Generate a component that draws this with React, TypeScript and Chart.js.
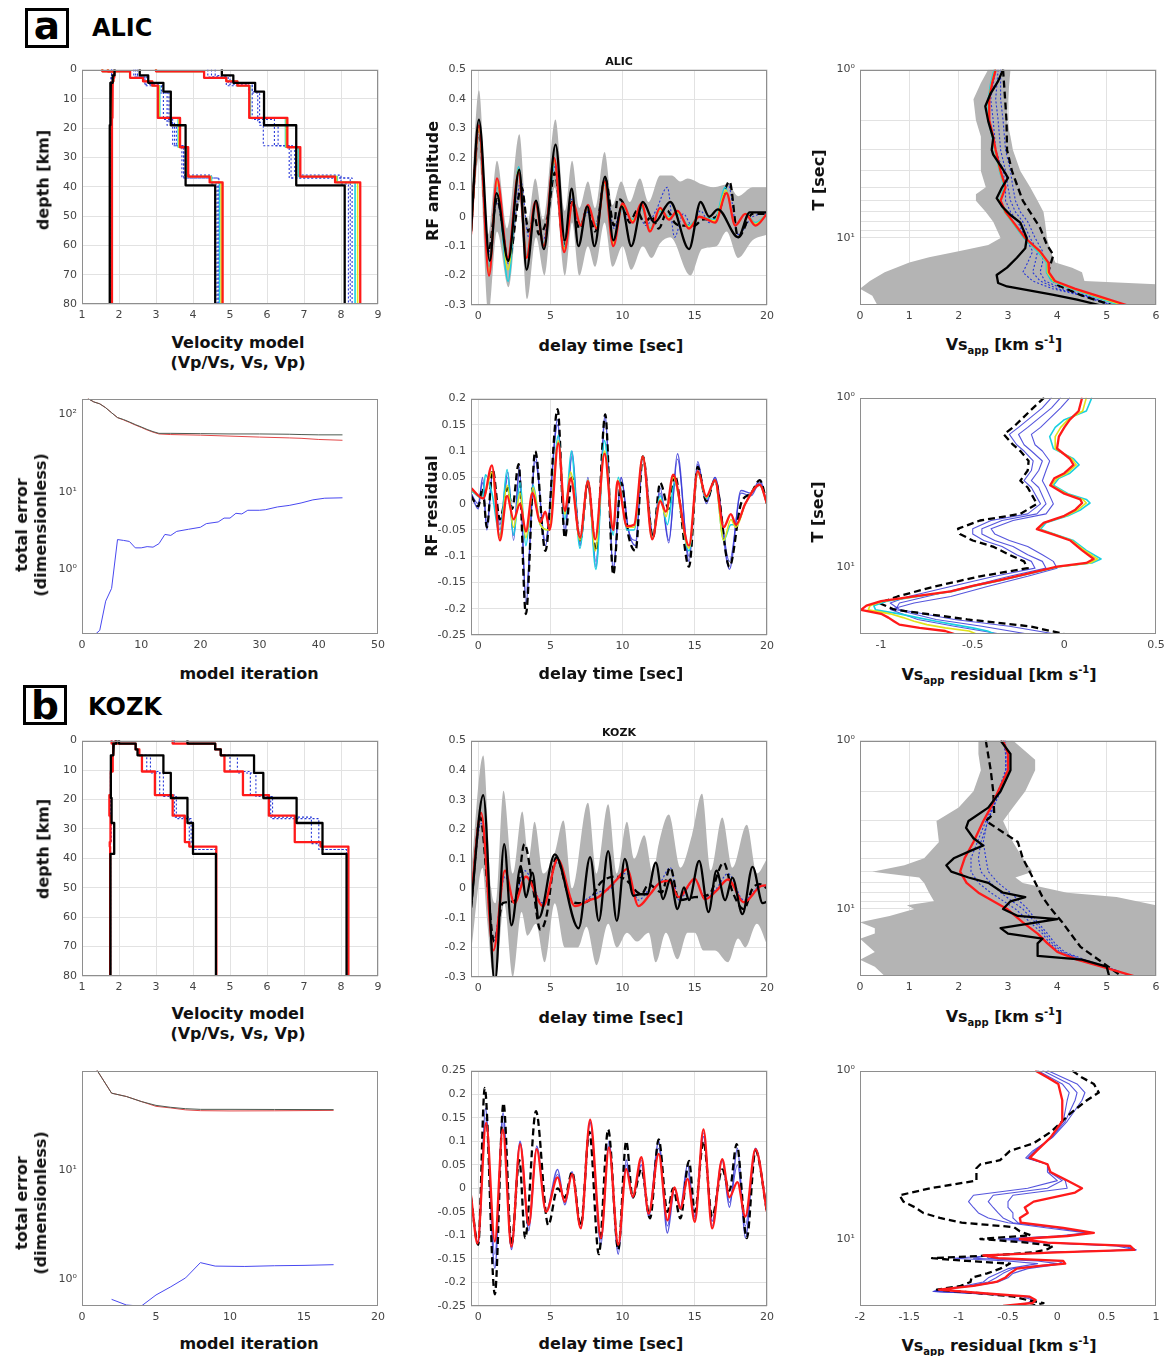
import React, { useEffect, useRef } from 'react';
import { Chart, registerables } from 'chart.js';
Chart.register(...registerables);

// ===================== DATA =====================
// ---- a) ALIC velocity models (layer top depth [km] + values) ----
const ALIC_BLACK_DEPTH = [0, 2, 4.5, 7.5, 19, 39.5];
const ALIC_BLACK_VPVS = [1.88, 1.83, 1.78, 1.76, 1.75, 1.75];
const ALIC_BLACK_VS = [2.56, 2.79, 3.2, 3.4, 3.8, 4.6];
const ALIC_BLACK_VP = [4.78, 5.09, 5.68, 5.92, 6.79, 8.1];
const ALIC_RED_DEPTH = [0, 0.6, 2.8, 4, 5.5, 16.5, 26.5, 36.5, 38.5];
const ALIC_RED_VPVS = [1.55, 1.87, 1.85, 1.83, 1.82, 1.81, 1.81, 1.81, 1.81];
const ALIC_RED_VS = [1.7, 2.3, 2.65, 2.9, 3.05, 3.65, 3.87, 4.45, 4.8];
const ALIC_RED_VP = [3.0, 4.3, 4.9, 5.2, 5.52, 6.55, 6.9, 7.84, 8.52];
const ALIC_CYAN_VS = [1.7, 2.3, 2.65, 2.9, 3.1, 3.6, 3.82, 4.5, 4.72];
const ALIC_CYAN_VP = [3.0, 4.3, 4.9, 5.2, 5.55, 6.5, 6.85, 7.9, 8.38];
const ALIC_YELLOW_VS = [1.7, 2.3, 2.65, 2.9, 3.08, 3.62, 3.85, 4.48, 4.76];
const ALIC_YELLOW_VP = [3.0, 4.3, 4.9, 5.2, 5.53, 6.52, 6.88, 7.88, 8.45];
const ALIC_JET_VPVS = [1.55, 1.87, 1.85, 1.82, 1.8, 1.8, 1.79, 1.79, 1.79];
const ALIC_BLUE_DEPTH = [[0, 2, 4.5, 7.5, 19, 26, 36, 39], [0, 2.5, 5, 8, 18, 26, 37], [0, 2.5, 5.5, 17, 26, 37]];
const ALIC_BLUE_VS = [[2.5, 2.75, 3.15, 3.3, 3.55, 3.75, 4.5, 4.65], [2.45, 2.7, 3.1, 3.35, 3.5, 3.7, 4.7], [2.4, 2.7, 3.2, 3.45, 3.75, 4.68]];
const ALIC_BLUE_VP = [[4.6, 5.0, 5.6, 5.8, 6.3, 6.75, 8.0, 8.2], [4.5, 4.95, 5.5, 5.75, 5.9, 6.6, 8.3], [4.4, 4.9, 5.6, 6.2, 6.65, 8.25]];
const ALIC_BLUE_VPVS = [[1.8, 1.79, 1.78, 1.77, 1.77, 1.77, 1.77, 1.77], [1.8, 1.79, 1.78, 1.78, 1.77, 1.77, 1.77], [1.8, 1.79, 1.78, 1.78, 1.77, 1.77]];

// ---- a) ALIC receiver functions [t, amplitude] ----
const ALIC_RF_BLACK = [[-0.5, -0.05], [0.05, 0.33], [0.8, -0.15], [1.27, 0.08], [2.08, -0.15], [2.84, 0.16], [3.35, -0.18], [4.0, 0.055], [4.55, -0.11], [5.36, 0.245], [6.0, -0.08], [6.47, 0.095], [6.94, -0.1], [7.55, 0.035], [8.05, -0.1], [8.79, 0.136], [9.36, -0.08], [9.94, 0.035], [10.6, -0.1], [11.4, 0.05], [12.2, -0.02], [13.3, 0.05], [14.6, -0.11], [15.4, 0.05], [16.0, 0.0], [16.6, 0.025], [18.0, -0.07], [18.8, 0.015], [20, 0.015]];
const ALIC_RF_RED = [[-0.5, -0.06], [0.05, 0.31], [0.75, -0.2], [1.3, 0.13], [2.05, -0.14], [2.8, 0.15], [3.35, -0.14], [3.95, 0.05], [4.55, -0.1], [5.25, 0.2], [5.95, -0.12], [6.55, 0.05], [7.1, -0.03], [7.6, 0.04], [8.2, -0.04], [8.75, 0.12], [9.35, -0.1], [10.0, 0.045], [10.7, -0.02], [11.3, 0.045], [11.9, -0.05], [12.6, 0.03], [13.2, -0.01], [13.8, 0.02], [14.6, -0.04], [15.3, 0.0], [15.9, -0.01], [16.4, -0.02], [17.2, 0.08], [17.8, -0.03], [18.5, 0.01], [19.2, -0.03], [20, 0.01]];
const ALIC_RF_DASH = [[-0.5, -0.05], [0.05, 0.3], [0.7, -0.12], [1.3, 0.06], [2.1, -0.15], [3.0, 0.1], [3.5, -0.05], [3.9, 0.0], [4.2, -0.06], [4.8, 0.0], [5.3, 0.15], [5.95, -0.1], [6.5, 0.05], [7.0, -0.04], [7.6, 0.03], [8.1, -0.05], [8.8, 0.13], [9.4, -0.03], [9.65, 0.06], [10.0, 0.05], [10.5, -0.02], [11.0, 0.02], [11.5, -0.02], [12.0, 0.0], [12.5, -0.04], [13.1, 0.02], [13.6, -0.02], [14.0, -0.03], [15.0, -0.03], [15.5, -0.01], [16.5, 0.0], [17.4, 0.12], [18.0, -0.07], [19, 0.01], [20, 0.01]];
const ALIC_RF_BLUE = [[-0.5, -0.05], [0.05, 0.29], [0.7, -0.13], [1.3, 0.05], [2.1, -0.16], [2.95, 0.12], [3.5, -0.07], [4.0, 0.05], [4.5, -0.08], [5.3, 0.17], [5.95, -0.1], [6.5, 0.06], [7.0, -0.03], [7.7, 0.02], [8.1, -0.03], [8.8, 0.12], [9.4, -0.04], [9.9, 0.03], [10.5, -0.02], [11.0, 0.02], [11.6, -0.03], [12.3, 0.02], [13.1, 0.1], [13.6, -0.07], [14.2, 0.01], [14.8, -0.03], [15.4, 0.02], [16.0, -0.02], [16.7, 0.02], [17.3, 0.11], [18.0, -0.06], [19, 0.0], [20, 0.01]];
const ALIC_RF_CYAN = [[-0.5, -0.06], [0.05, 0.3], [0.75, -0.17], [1.3, 0.1], [2.07, -0.22], [2.8, 0.17], [3.35, -0.13], [3.95, 0.05], [4.55, -0.09], [5.3, 0.18], [5.95, -0.1], [6.55, 0.05], [7.1, -0.03], [7.6, 0.03], [8.2, -0.03], [8.75, 0.11], [9.35, -0.08], [10.0, 0.03], [10.7, -0.01], [11.3, 0.03], [11.9, -0.04], [12.6, 0.02], [13.2, 0.0], [13.8, 0.01], [14.6, -0.03], [15.3, 0.0], [16.4, -0.01], [17.1, 0.1], [17.8, -0.03], [18.5, 0.01], [19.2, -0.02], [20, 0.01]];
const ALIC_RF_YELLOW = [[-0.5, -0.06], [0.05, 0.3], [0.75, -0.19], [1.3, 0.12], [2.06, -0.18], [2.8, 0.16], [3.35, -0.14], [3.95, 0.05], [4.55, -0.1], [5.27, 0.19], [5.95, -0.11], [6.55, 0.05], [7.1, -0.03], [7.6, 0.035], [8.2, -0.035], [8.75, 0.115], [9.35, -0.09], [10.0, 0.04], [10.7, -0.015], [11.3, 0.04], [11.9, -0.045], [12.6, 0.025], [13.2, -0.005], [13.8, 0.015], [14.6, -0.035], [15.3, 0.0], [16.4, -0.015], [17.15, 0.09], [17.8, -0.03], [18.5, 0.01], [19.2, -0.025], [20, 0.01]];
const ALIC_RF_BAND_UP = [[-0.5, 0.05], [0.05, 0.43], [0.7, -0.06], [1.3, 0.19], [2.0, -0.04], [2.85, 0.28], [3.4, -0.02], [3.95, 0.13], [4.5, -0.01], [5.35, 0.33], [6.0, 0.02], [6.5, 0.19], [7.0, 0.03], [7.6, 0.12], [8.1, 0.03], [8.75, 0.22], [9.3, 0.04], [9.9, 0.12], [10.5, 0.05], [11.2, 0.13], [11.8, 0.05], [12.6, 0.14], [13.4, 0.14], [14.0, 0.12], [14.5, 0.13], [15.5, 0.11], [16.3, 0.1], [17.3, 0.11], [18.0, 0.07], [19.0, 0.1], [20, 0.1]];
const ALIC_RF_BAND_LO = [[-0.5, -0.07], [0.05, 0.2], [0.7, -0.33], [1.3, -0.05], [2.1, -0.24], [2.85, 0.05], [3.4, -0.28], [4.0, -0.07], [4.6, -0.2], [5.3, 0.1], [6.0, -0.2], [6.5, -0.02], [7.0, -0.2], [7.6, -0.1], [8.1, -0.17], [8.75, -0.02], [9.3, -0.17], [10.0, -0.1], [10.6, -0.18], [11.4, -0.1], [12.0, -0.14], [12.6, -0.09], [13.3, -0.07], [14.7, -0.2], [15.5, -0.11], [16.5, -0.1], [17.2, -0.05], [18.0, -0.14], [19.0, -0.08], [20, -0.06]];

// ---- a) ALIC apparent Vs vs period T ----
const ALIC_VS_T = [1, 1.2, 1.5, 2, 2.5, 3, 4, 5, 6, 7, 8, 10, 12, 14, 16, 18, 20, 22, 25];
const ALIC_VS_RED = [2.75, 2.68, 2.62, 2.62, 2.7, 2.75, 2.85, 2.95, 2.85, 2.95, 3.1, 3.35, 3.65, 3.82, 3.83, 3.95, 4.35, 4.8, 5.4];
const ALIC_VS_CYAN = [2.72, 2.65, 2.6, 2.6, 2.68, 2.73, 2.83, 2.92, 2.83, 2.93, 3.08, 3.32, 3.6, 3.78, 3.78, 3.88, 4.28, 4.7, 5.25];
const ALIC_VS_YELLOW = [2.74, 2.67, 2.61, 2.61, 2.69, 2.74, 2.84, 2.94, 2.84, 2.94, 3.09, 3.34, 3.63, 3.8, 3.8, 3.92, 4.32, 4.75, 5.32];
const ALIC_VS_BLACK_T = [1, 1.17, 1.4, 1.65, 2.03, 2.55, 3.0, 3.2, 3.84, 4.4, 5.0, 5.8, 6.5, 7.3, 8.1, 10, 11.5, 13.1, 15, 16.6, 18.5, 19.4, 21.7, 23.2, 25];
const ALIC_VS_BLACK = [2.9, 2.8, 2.64, 2.54, 2.6, 2.7, 2.67, 2.7, 2.88, 3.0, 2.88, 2.77, 2.88, 3.05, 3.25, 3.38, 3.35, 3.18, 2.98, 2.77, 2.8, 2.98, 3.9, 4.4, 4.85];
const ALIC_VS_DASH_T = [1, 2, 3, 4, 5, 6, 8.7, 11, 12.6, 14.4, 16.5, 19, 22, 25];
const ALIC_VS_DASH = [2.9, 2.97, 2.98, 3.08, 3.2, 3.3, 3.65, 3.79, 3.92, 3.86, 3.8, 4.0, 4.5, 5.1];
const ALIC_VS_BLUE_T = [1, 1.5, 2, 3, 4, 5, 6, 7, 8, 10, 12, 14, 16, 18, 20, 22, 25];
const ALIC_VS_BLUE = [
  [2.85, 2.85, 2.9, 2.95, 3.05, 3.1, 3.15, 3.25, 3.4, 3.55, 3.7, 3.7, 3.65, 3.75, 4.1, 4.6, 5.1],
  [2.8, 2.75, 2.8, 2.85, 2.95, 3.0, 3.05, 3.15, 3.3, 3.45, 3.6, 3.55, 3.5, 3.65, 4.0, 4.55, 5.1],
  [2.75, 2.65, 2.7, 2.75, 2.9, 2.95, 2.95, 3.05, 3.2, 3.35, 3.5, 3.4, 3.3, 3.5, 3.9, 4.5, 5.05],
];
const ALIC_VS_BAND_L_T = [1, 1.2, 1.5, 2, 2.5, 3, 4, 5, 5.5, 6, 7, 8, 10, 11, 12, 13, 14, 16, 18, 20, 22, 25];
const ALIC_VS_BAND_L = [2.6, 2.45, 2.3, 2.35, 2.45, 2.45, 2.45, 2.55, 2.35, 2.35, 2.55, 2.7, 2.85, 2.6, 2.0, 1.4, 1.0, 0.5, 0.2, 0.0, 0.25, 0.35];
const ALIC_VS_BAND_R_T = [1, 1.5, 2, 2.5, 3, 4, 5, 6, 7, 8, 10, 12, 14, 15, 16, 18, 18.8, 25];
const ALIC_VS_BAND_R = [3.05, 3.0, 2.98, 3.05, 3.1, 3.25, 3.45, 3.6, 3.72, 3.75, 3.79, 3.86, 3.96, 4.3, 4.5, 4.55, 6.0, 6.0];

// ---- a) ALIC total error vs model iteration ----
const ALIC_ERR_IT = [1, 2, 3, 4, 5, 6, 7, 8, 9, 10, 11, 12, 13, 15, 20, 25, 30, 35, 37, 40, 44];
const ALIC_ERR_BLACK = [160, 145, 137, 122, 105, 91, 86, 80, 74, 69, 64, 60, 57, 57, 56.5, 56, 56, 55.5, 55, 54.5, 54.5];
const ALIC_ERR_RED = [160, 145, 137, 122, 105, 91, 85, 79, 73, 68, 63, 59, 56, 55, 54, 52.5, 51, 49.8, 49.2, 47.5, 46.4];
const ALIC_ERR_BLUE_IT = [2, 3, 4, 5, 6, 7, 8, 9, 10, 11, 12, 13, 14, 15, 16, 18, 20, 21, 23, 24, 25, 26, 27, 28, 30, 31, 33, 35, 37, 39, 41, 44];
const ALIC_ERR_BLUE = [0.14, 0.164, 0.39, 0.57, 2.43, 2.37, 2.3, 1.9, 1.9, 1.97, 1.94, 2.15, 2.83, 2.75, 3.1, 3.3, 3.5, 3.9, 4.1, 4.6, 4.6, 5.3, 5.2, 5.8, 5.8, 5.9, 6.4, 6.7, 7.2, 7.9, 8.3, 8.4];

// ---- a) ALIC RF residuals [t, residual] ----
const ALIC_RES_RED = [[-0.5, 0.03], [0.35, 0.01], [0.95, 0.073], [1.5, -0.07], [2.0, 0.015], [2.45, -0.03], [2.9, 0.0], [3.3, -0.053], [3.75, 0.02], [4.3, -0.035], [4.65, -0.015], [4.95, -0.05], [5.55, 0.115], [6.0, -0.014], [6.4, 0.048], [7.05, -0.064], [7.6, 0.043], [8.1, -0.068], [8.75, 0.095], [9.35, -0.05], [9.65, 0.043], [10.3, -0.043], [10.8, -0.04], [11.4, 0.09], [12.05, -0.068], [12.6, 0.005], [13.0, -0.015], [13.5, 0.055], [14.6, -0.08], [15.2, 0.062], [15.8, 0.014], [16.4, 0.045], [17.0, -0.045], [17.5, -0.02], [17.85, -0.04], [18.5, 0.0], [19.5, 0.036], [20, 0.0]];
const ALIC_RES_DASH = [[-0.5, 0.015], [0.0, -0.005], [0.3, 0.03], [0.6, -0.045], [1.0, 0.065], [1.5, -0.03], [2.05, 0.03], [2.35, -0.01], [2.8, 0.075], [3.3, -0.21], [3.95, 0.1], [4.65, -0.09], [5.5, 0.18], [6.0, -0.065], [6.5, 0.05], [7.05, -0.07], [7.6, 0.04], [8.15, -0.09], [8.8, 0.17], [9.35, -0.135], [9.9, 0.04], [10.4, -0.06], [10.9, -0.09], [11.4, 0.09], [12.1, -0.065], [12.6, 0.04], [13.2, -0.01], [13.6, 0.055], [14.6, -0.12], [15.2, 0.07], [15.8, 0.005], [16.4, 0.045], [17.4, -0.12], [18.2, 0.0], [18.9, 0.02], [19.5, 0.045], [20, 0.0]];
const ALIC_RES_BLUE1 = [[-0.5, 0.02], [0.0, -0.01], [0.3, 0.05], [0.6, -0.05], [1.0, 0.06], [1.5, -0.04], [2.05, 0.06], [2.45, -0.06], [2.85, 0.07], [3.3, -0.19], [3.95, 0.09], [4.65, -0.08], [5.5, 0.16], [6.0, -0.05], [6.5, 0.1], [7.05, -0.08], [7.6, 0.05], [8.15, -0.12], [8.8, 0.17], [9.35, -0.13], [9.9, 0.05], [10.4, -0.05], [10.9, -0.08], [11.4, 0.09], [12.1, -0.06], [12.6, 0.03], [13.2, -0.07], [13.8, 0.095], [14.6, -0.11], [15.2, 0.075], [15.8, 0.0], [16.4, 0.05], [17.4, -0.125], [18.2, 0.025], [18.9, 0.02], [19.5, 0.045], [20, 0.0]];
const ALIC_RES_BLUE2 = [[-0.5, 0.02], [0.0, 0.0], [0.3, 0.04], [0.6, -0.04], [1.0, 0.06], [1.5, -0.05], [2.05, 0.05], [2.45, -0.07], [2.85, 0.06], [3.3, -0.17], [3.95, 0.08], [4.65, -0.07], [5.5, 0.15], [6.0, -0.06], [6.5, 0.09], [7.05, -0.08], [7.6, 0.04], [8.15, -0.11], [8.8, 0.16], [9.35, -0.12], [9.9, 0.05], [10.4, -0.05], [10.9, -0.07], [11.4, 0.09], [12.1, -0.06], [12.6, 0.02], [13.2, -0.075], [13.8, 0.085], [14.6, -0.1], [15.2, 0.08], [15.8, 0.005], [16.4, 0.05], [17.4, -0.11], [18.2, 0.02], [18.9, 0.015], [19.5, 0.04], [20, 0.0]];
const ALIC_RES_CYAN = [[-0.5, 0.025], [0.3, 0.01], [0.5, 0.055], [0.95, 0.02], [1.5, -0.06], [2.0, 0.065], [2.45, -0.06], [2.9, 0.04], [3.3, -0.08], [3.8, 0.035], [4.3, -0.04], [4.9, -0.05], [5.55, 0.13], [6.0, -0.03], [6.45, 0.1], [7.05, -0.085], [7.6, 0.045], [8.15, -0.125], [8.75, 0.12], [9.35, -0.06], [9.7, 0.05], [10.3, -0.05], [10.8, -0.05], [11.4, 0.09], [12.05, -0.065], [12.6, 0.015], [13.1, -0.04], [13.6, 0.04], [14.6, -0.09], [15.2, 0.06], [15.8, 0.01], [16.4, 0.045], [17.0, -0.07], [17.5, -0.04], [17.9, -0.04], [18.5, 0.0], [19.5, 0.035], [20, 0.0]];
const ALIC_RES_YELLOW = [[-0.5, 0.028], [0.35, 0.01], [0.95, 0.06], [1.5, -0.065], [2.0, 0.035], [2.45, -0.045], [2.9, 0.02], [3.3, -0.065], [3.8, 0.03], [4.3, -0.04], [4.9, -0.05], [5.55, 0.12], [6.0, -0.02], [6.4, 0.06], [7.05, -0.07], [7.6, 0.045], [8.1, -0.09], [8.75, 0.1], [9.35, -0.05], [9.65, 0.045], [10.3, -0.045], [10.8, -0.045], [11.4, 0.09], [12.05, -0.067], [12.6, 0.008], [13.0, -0.025], [13.5, 0.05], [14.6, -0.085], [15.2, 0.06], [15.8, 0.012], [16.4, 0.045], [17.0, -0.07], [17.5, -0.03], [17.85, -0.045], [18.5, 0.0], [19.5, 0.036], [20, 0.0]];

// ---- a) ALIC apparent-Vs residuals vs T ----
const ALIC_VSR_T = [1, 1.2, 1.35, 1.5, 1.7, 2, 2.3, 2.5, 2.8, 3, 3.3, 3.7, 4, 4.2, 4.6, 5, 5.5, 6, 6.5, 7, 8, 9, 9.5, 10, 11, 12, 13, 14, 15, 16, 17, 18, 19, 20, 21, 22, 23, 24, 25];
const ALIC_VSR_RED = [0.097, 0.078, 0.03, 0.0, -0.03, -0.04, 0.03, 0.05, 0.0, -0.055, -0.077, 0.0, 0.087, 0.097, 0.06, 0.0, -0.113, -0.15, -0.05, 0.033, 0.097, 0.16, 0.12, -0.04, -0.2, -0.35, -0.5, -0.62, -0.82, -1.0, -1.08, -1.11, -1.0, -0.96, -0.93, -0.9, -0.79, -0.65, -0.6];
const ALIC_VSR_CYAN = [0.15, 0.12, 0.0, -0.05, -0.08, -0.06, 0.05, 0.08, 0.03, -0.03, -0.06, 0.02, 0.12, 0.14, 0.09, 0.02, -0.1, -0.13, -0.04, 0.05, 0.12, 0.2, 0.15, -0.03, -0.19, -0.34, -0.49, -0.61, -0.8, -0.97, -1.04, -1.03, -0.9, -0.8, -0.7, -0.6, -0.5, -0.42, -0.38];
const ALIC_VSR_YELLOW = [0.12, 0.1, 0.02, -0.02, -0.05, -0.05, 0.04, 0.065, 0.015, -0.04, -0.07, 0.01, 0.1, 0.12, 0.075, 0.01, -0.11, -0.14, -0.045, 0.04, 0.11, 0.18, 0.14, -0.035, -0.2, -0.345, -0.5, -0.62, -0.81, -0.99, -1.06, -1.07, -0.95, -0.88, -0.82, -0.75, -0.65, -0.52, -0.48];
const ALIC_VSR_DASH_T = [1, 1.15, 1.5, 1.65, 1.9, 2.07, 2.37, 2.7, 3.1, 3.4, 4.25, 4.87, 5.33, 5.96, 6.4, 7.0, 7.6, 8.5, 9.3, 10.2, 11.4, 13.1, 15, 16.4, 17.9, 20.5, 22.5, 25];
const ALIC_VSR_DASH = [-0.11, -0.17, -0.28, -0.33, -0.28, -0.24, -0.195, -0.2, -0.24, -0.2, -0.15, -0.24, -0.46, -0.58, -0.57, -0.5, -0.39, -0.3, -0.22, -0.2, -0.46, -0.71, -0.91, -1.01, -0.93, -0.53, -0.19, 0.0];
const ALIC_VSR_BLUE = [
  [-0.07, -0.12, -0.25, -0.3, -0.26, -0.22, -0.17, -0.18, -0.22, -0.18, -0.13, -0.2, -0.4, -0.5, -0.5, -0.44, -0.34, -0.26, -0.18, -0.16, -0.38, -0.62, -0.85, -0.95, -0.9, -0.6, -0.3, -0.05],
  [-0.02, -0.07, -0.2, -0.25, -0.22, -0.18, -0.12, -0.14, -0.18, -0.14, -0.1, -0.15, -0.34, -0.45, -0.45, -0.38, -0.28, -0.2, -0.12, -0.1, -0.3, -0.52, -0.75, -0.9, -0.92, -0.7, -0.45, -0.2],
  [0.03, -0.02, -0.13, -0.18, -0.16, -0.12, -0.08, -0.1, -0.12, -0.1, -0.06, -0.1, -0.28, -0.4, -0.38, -0.3, -0.2, -0.12, -0.06, -0.04, -0.2, -0.42, -0.62, -0.82, -0.95, -0.8, -0.6, -0.35],
];

// ---- b) KOZK velocity models ----
const KOZK_BLACK_DEPTH = [0, 1, 3, 5, 11, 19.5, 28, 38.5];
const KOZK_BLACK_VPVS = [1.93, 1.86, 1.84, 1.78, 1.78, 1.8, 1.87, 1.77];
const KOZK_BLACK_VS = [2.0, 2.45, 2.5, 3.2, 3.4, 3.85, 4.0, 4.62];
const KOZK_BLACK_VP = [3.85, 4.6, 4.75, 5.65, 5.9, 6.8, 7.5, 8.15];
const KOZK_RED_DEPTH = [0, 1, 3, 5, 10.5, 18.5, 25.5, 34.5, 36];
const KOZK_RED_VPVS = [1.8, 1.85, 1.84, 1.83, 1.78, 1.74, 1.77, 1.75, 1.76];
const KOZK_RED_VS = [1.9, 2.45, 2.55, 2.62, 2.97, 3.45, 3.78, 3.9, 4.63];
const KOZK_RED_VP = [3.45, 4.6, 4.75, 4.85, 5.35, 6.05, 6.75, 7.45, 8.2];
const KOZK_BLUE_DEPTH = [[0, 1, 3, 5, 10.5, 18.5, 26, 35, 37], [0, 1, 3, 5, 11, 19, 26.5, 35, 37]];
const KOZK_BLUE_VS = [[1.9, 2.45, 2.55, 2.75, 3.1, 3.5, 3.9, 4.0, 4.62], [1.9, 2.45, 2.55, 2.85, 3.2, 3.55, 3.95, 4.0, 4.62]];
const KOZK_BLUE_VP = [[3.5, 4.6, 4.75, 5.0, 5.55, 6.1, 7.2, 7.4, 8.15], [3.5, 4.6, 4.75, 5.2, 5.7, 6.15, 7.4, 7.5, 8.15]];
const KOZK_BLUE_VPVS = [[1.8, 1.84, 1.83, 1.8, 1.77, 1.76, 1.78, 1.77, 1.77], [1.8, 1.84, 1.83, 1.8, 1.77, 1.77, 1.79, 1.77, 1.77]];

// ---- b) KOZK receiver functions ----
const KOZK_RF_BLACK = [[-0.5, -0.065], [0.35, 0.315], [1.15, -0.32], [1.8, 0.15], [2.3, -0.125], [2.95, 0.075], [3.3, -0.03], [3.75, 0.053], [4.2, -0.1], [5.3, 0.115], [6.95, -0.135], [7.75, 0.106], [8.35, -0.11], [9.0, 0.126], [9.6, -0.11], [10.15, 0.1], [10.75, -0.025], [11.2, -0.02], [11.7, -0.02], [12.3, 0.087], [12.8, -0.036], [13.3, 0.03], [13.8, -0.07], [14.25, 0.003], [14.6, -0.04], [15.3, 0.093], [15.95, -0.08], [16.5, 0.06], [17.1, -0.04], [17.6, 0.036], [18.3, -0.087], [19.0, 0.073], [19.7, -0.05], [20, -0.045]];
const KOZK_RF_RED = [[-0.5, -0.04], [0.2, 0.255], [1.05, -0.21], [1.85, 0.06], [2.5, -0.05], [3.3, 0.04], [4.5, -0.06], [5.5, 0.098], [6.7, -0.06], [7.7, -0.04], [8.3, -0.03], [9.0, 0.0], [9.6, 0.03], [10.3, 0.065], [11.1, -0.06], [11.9, -0.02], [12.6, 0.02], [13.2, 0.025], [13.9, -0.03], [15.0, 0.033], [15.7, -0.037], [16.5, -0.008], [17.3, 0.03], [18.4, -0.047], [19.6, 0.008], [20, 0.01]];
const KOZK_RF_DASH = [[-0.5, -0.065], [0.15, 0.24], [0.65, 0.003], [1.1, -0.18], [1.7, -0.05], [2.6, -0.04], [3.2, 0.15], [3.8, 0.0], [4.3, -0.14], [4.7, -0.1], [5.4, 0.105], [6.3, -0.03], [6.9, -0.05], [7.7, -0.04], [8.5, 0.02], [9.6, 0.04], [10.2, 0.03], [11.3, -0.02], [11.8, 0.014], [12.7, -0.014], [13.3, 0.07], [13.9, -0.04], [15.0, -0.03], [16.0, -0.02], [17.0, 0.087], [17.6, -0.01], [18.4, -0.07], [19.0, 0.0], [19.5, 0.014], [20, 0.0]];
const KOZK_RF_BLUE = [[-0.5, -0.05], [0.2, 0.22], [1.05, -0.18], [1.85, 0.04], [2.5, -0.04], [3.2, 0.06], [4.5, -0.05], [5.5, 0.09], [6.7, -0.06], [7.7, -0.03], [8.5, -0.01], [9.2, 0.0], [9.7, 0.04], [10.3, 0.05], [11.1, -0.04], [11.9, 0.0], [12.6, 0.02], [13.3, 0.07], [13.9, -0.04], [15.0, 0.03], [15.7, -0.03], [16.5, 0.0], [17.3, 0.05], [18.4, -0.04], [19.6, 0.01], [20, 0.0]];
const KOZK_RF_BAND_UP = [[-0.5, 0.05], [0.35, 0.45], [0.9, 0.0], [1.2, -0.05], [1.75, 0.33], [2.4, 0.05], [3.05, 0.26], [3.5, 0.1], [3.9, 0.225], [4.5, 0.05], [5.3, 0.12], [5.9, 0.23], [6.5, 0.0], [7.6, 0.29], [8.2, 0.05], [9.0, 0.285], [9.6, 0.05], [10.3, 0.225], [10.8, 0.1], [11.5, 0.18], [12.1, 0.05], [12.5, 0.15], [13.2, 0.25], [14.0, 0.07], [14.8, 0.18], [15.5, 0.32], [16.1, 0.06], [16.9, 0.24], [17.6, 0.07], [18.6, 0.215], [19.3, 0.05], [20, 0.1]];
const KOZK_RF_BAND_LO = [[-0.5, -0.22], [0.3, 0.07], [0.6, -0.1], [1.15, -0.33], [1.8, -0.05], [2.4, -0.3], [3.0, -0.08], [3.4, -0.16], [4.0, -0.12], [4.6, -0.25], [5.3, -0.05], [6.0, -0.2], [6.9, -0.2], [7.5, -0.13], [8.2, -0.26], [9.0, -0.12], [9.6, -0.2], [10.3, -0.15], [11.0, -0.18], [11.8, -0.15], [12.3, -0.25], [13.0, -0.15], [13.8, -0.24], [14.5, -0.15], [15.0, -0.15], [15.6, -0.21], [16.4, -0.21], [17.3, -0.25], [18.0, -0.17], [18.5, -0.2], [19.3, -0.12], [20, -0.19]];

// ---- b) KOZK apparent Vs ----
const KOZK_VS_T = [1, 1.2, 1.5, 2, 2.5, 3, 4, 5, 6, 7, 8, 10, 12, 14, 16, 18, 20, 22, 25];
const KOZK_VS_RED = [2.9, 3.0, 3.0, 2.8, 2.65, 2.5, 2.3, 2.12, 2.03, 2.16, 2.4, 2.98, 3.3, 3.6, 3.8, 4.0, 4.4, 4.9, 5.55];
const KOZK_VS_BLUE = [
  [2.95, 2.95, 2.95, 2.85, 2.7, 2.6, 2.45, 2.4, 2.45, 2.65, 2.85, 3.3, 3.55, 3.75, 3.9, 4.1, 4.5, 4.95, 5.5],
  [2.9, 2.95, 2.95, 2.8, 2.68, 2.55, 2.38, 2.25, 2.25, 2.4, 2.65, 3.15, 3.45, 3.7, 3.85, 4.05, 4.45, 4.95, 5.5],
  [2.92, 2.98, 2.98, 2.82, 2.7, 2.58, 2.5, 2.55, 2.6, 2.8, 3.05, 3.4, 3.6, 3.8, 3.95, 4.15, 4.55, 5.0, 5.5],
];
const KOZK_VS_BLACK_T = [1, 1.2, 1.5, 2, 2.5, 3, 3.3, 3.8, 4.2, 4.5, 5, 5.5, 6, 6.5, 7, 8, 8.5, 9, 10, 11, 11.5, 13, 14, 15, 16, 18, 19, 20, 22, 25];
const KOZK_VS_BLACK = [2.85, 3.05, 3.05, 2.85, 2.6, 2.2, 2.15, 2.3, 2.5, 2.25, 1.9, 1.75, 1.85, 2.2, 2.6, 2.9, 3.35, 3.05, 2.9, 3.2, 4.0, 2.85, 3.0, 3.7, 3.6, 3.6, 3.6, 4.5, 5.0, 5.05];
const KOZK_VS_DASH_T = [1, 1.5, 2, 2.7, 3, 4, 5, 6.5, 8.5, 9.8, 12, 16.8, 25];
const KOZK_VS_DASH = [2.55, 2.65, 2.7, 2.72, 2.55, 3.2, 3.3, 3.5, 3.7, 3.85, 4.1, 4.47, 5.3];
const KOZK_VS_BAND_L_T = [1, 1.2, 1.5, 2, 2.5, 3, 4, 5, 5.5, 6, 6.5, 7, 8, 9, 9.5, 10, 11, 12, 13, 14, 15, 18, 20, 22, 25];
const KOZK_VS_BAND_L = [2.4, 2.4, 2.45, 2.3, 2.0, 1.55, 1.6, 1.3, 0.9, 0.25, 1.2, 1.3, 1.4, 1.5, 0.95, 1.1, 0.6, 0.0, 0.3, 0.3, 0.0, 0.3, 0.0, 0.3, 0.5];
const KOZK_VS_BAND_R_T = [1, 1.3, 1.5, 2, 2.5, 3, 4, 5, 6, 6.5, 7, 8, 8.5, 9.5, 25];
const KOZK_VS_BAND_R = [3.1, 3.55, 3.55, 3.35, 3.1, 2.9, 3.1, 3.3, 3.5, 3.15, 3.3, 4.2, 5.2, 6.0, 6.0];

// ---- b) KOZK total error ----
const KOZK_ERR_IT = [1, 2, 3, 4, 5, 6, 7, 8, 10, 13, 17];
const KOZK_ERR_BLACK = [84, 51.3, 47.8, 43, 39.6, 38, 36.9, 36.4, 36.4, 36.3, 36.2];
const KOZK_ERR_RED = [84, 51.3, 47.8, 43, 38.8, 37.5, 36, 35.4, 35.2, 35.3, 35.6];
const KOZK_ERR_BLUE_IT = [2, 3, 4, 5, 6, 7, 8, 9, 11, 13, 15, 17];
const KOZK_ERR_BLUE = [0.647, 0.574, 0.56, 0.71, 0.845, 1.02, 1.41, 1.31, 1.3, 1.32, 1.33, 1.35];

// ---- b) KOZK RF residuals ----
const KOZK_RES_RED = [[-0.5, -0.015], [-0.05, -0.117], [0.55, 0.139], [1.15, -0.113], [1.7, 0.125], [2.3, -0.124], [2.9, 0.094], [3.5, -0.078], [4.05, 0.083], [4.7, -0.05], [5.5, 0.023], [6.0, -0.029], [6.5, 0.03], [7.1, -0.085], [7.75, 0.146], [8.5, -0.106], [9.05, 0.087], [9.7, -0.12], [10.25, 0.041], [10.7, -0.018], [11.3, 0.066], [11.8, -0.054], [12.5, 0.073], [13.1, -0.068], [13.6, 0.002], [14.0, -0.043], [14.5, 0.02], [15.0, -0.071], [15.6, 0.125], [16.2, -0.085], [16.9, 0.062], [17.4, -0.019], [17.95, 0.013], [18.5, -0.06], [19.2, 0.083], [20, -0.05]];
const KOZK_RES_DASH = [[-0.5, -0.02], [0.0, -0.12], [0.45, 0.213], [1.15, -0.225], [1.75, 0.181], [2.3, -0.12], [2.85, 0.06], [3.25, -0.106], [4.0, 0.164], [4.85, -0.078], [5.5, 0.0], [6.0, -0.02], [6.5, 0.035], [7.1, -0.08], [7.7, 0.12], [8.35, -0.14], [9.0, 0.125], [9.7, -0.13], [10.25, 0.1], [10.7, -0.02], [11.3, 0.04], [11.9, -0.064], [12.5, 0.104], [13.1, -0.05], [13.5, 0.0], [14.0, -0.064], [14.6, 0.058], [15.0, -0.05], [15.6, 0.1], [16.2, -0.06], [16.9, 0.04], [17.4, -0.005], [17.9, 0.094], [18.6, -0.106], [19.2, 0.08], [20, -0.05]];
const KOZK_RES_BLUE1 = [[-0.5, -0.02], [0.0, -0.12], [0.5, 0.17], [1.15, -0.17], [1.72, 0.16], [2.3, -0.13], [2.9, 0.1], [3.5, -0.09], [4.05, 0.09], [4.7, -0.05], [5.5, 0.04], [6.0, -0.035], [6.5, 0.035], [7.1, -0.085], [7.75, 0.14], [8.5, -0.12], [9.05, 0.1], [9.7, -0.14], [10.25, 0.06], [10.7, -0.02], [11.3, 0.05], [11.8, -0.06], [12.5, 0.1], [13.1, -0.095], [13.6, 0.0], [14.0, -0.04], [14.5, 0.05], [15.0, -0.06], [15.6, 0.11], [16.2, -0.07], [16.9, 0.06], [17.4, -0.04], [17.95, 0.085], [18.5, -0.105], [19.2, 0.085], [20, -0.05]];
const KOZK_RES_BLUE2 = [[-0.5, -0.018], [0.0, -0.118], [0.52, 0.15], [1.15, -0.14], [1.71, 0.14], [2.3, -0.125], [2.9, 0.097], [3.5, -0.08], [4.05, 0.085], [4.7, -0.05], [5.5, 0.03], [6.0, -0.03], [6.5, 0.03], [7.1, -0.085], [7.75, 0.143], [8.5, -0.11], [9.05, 0.09], [9.7, -0.13], [10.25, 0.05], [10.7, -0.02], [11.3, 0.06], [11.8, -0.057], [12.5, 0.085], [13.1, -0.08], [13.6, 0.0], [14.0, -0.045], [14.5, 0.035], [15.0, -0.065], [15.6, 0.118], [16.2, -0.08], [16.9, 0.06], [17.4, -0.03], [17.95, 0.05], [18.5, -0.08], [19.2, 0.084], [20, -0.05]];

// ---- b) KOZK apparent-Vs residuals ----
const KOZK_VSR_T = [1, 1.1, 1.2, 1.5, 2, 2.5, 3, 3.3, 3.6, 4, 4.5, 5, 5.3, 6, 6.5, 7, 7.5, 8, 8.6, 9.2, 9.6, 10, 10.5, 11, 11.6, 12, 12.5, 13, 13.5, 14, 14.5, 15, 16, 17, 18, 19, 20, 21, 22, 23, 24, 25];
const KOZK_VSR_RED = [-0.225, -0.1, 0.01, 0.05, 0.05, -0.07, -0.21, -0.28, -0.1, -0.07, 0.1, 0.25, 0.18, -0.24, -0.33, -0.3, -0.38, -0.37, 0.06, 0.37, 0.1, -0.38, -0.1, 0.74, 0.78, 0.0, -0.75, -0.6, 0.06, 0.08, -0.2, -0.41, -0.48, -0.53, -0.62, -0.85, -1.2, -0.75, -0.28, -0.22, -0.25, -0.55];
const KOZK_VSR_DASH_T = [1, 1.1, 1.2, 1.35, 1.5, 1.8, 2, 2.3, 2.7, 3, 3.4, 3.6, 3.8, 4.5, 5, 5.5, 6, 6.5, 7, 7.5, 8, 8.5, 9, 9.5, 10, 10.5, 11, 11.5, 12, 12.5, 13, 13.5, 14, 15, 16, 17, 18, 19, 20, 21, 22, 23, 24, 25];
const KOZK_VSR_DASH = [0.15, 0.25, 0.37, 0.42, 0.3, 0.13, 0.05, -0.06, -0.24, -0.48, -0.58, -0.78, -0.82, -0.82, -1.29, -1.6, -1.56, -1.44, -1.36, -1.19, -0.97, -0.44, -0.38, -0.27, -0.78, -0.31, -0.04, -0.1, -0.24, -0.65, -1.27, -0.92, -0.48, -0.58, -0.71, -0.87, -0.88, -0.98, -1.22, -0.78, -0.44, -0.31, -0.14, -0.28];
const KOZK_VSR_BLUE_T = [1, 1.2, 1.35, 1.5, 2, 2.5, 3, 3.3, 3.6, 4, 4.5, 5, 5.5, 6, 6.5, 7, 7.5, 8, 8.6, 9.2, 9.6, 10, 10.5, 11, 11.6, 12, 12.5, 13, 13.5, 14, 15, 16, 17, 18, 19, 20, 20.5, 21, 22, 23, 24, 25];
const KOZK_VSR_BLUE = [
  [-0.1, 0.2, 0.28, 0.25, 0.1, -0.05, -0.25, -0.32, -0.1, -0.1, 0.0, -0.3, -0.85, -0.9, -0.85, -0.8, -0.7, -0.5, -0.1, 0.3, 0.0, -0.6, -0.2, 0.6, 0.8, -0.1, -0.6, -1.05, -0.5, -0.2, -0.5, -0.6, -0.7, -0.75, -0.95, -1.2, -1.26, -0.9, -0.35, -0.25, -0.3, -0.5],
  [-0.15, 0.12, 0.2, 0.18, 0.08, -0.06, -0.23, -0.3, -0.1, -0.08, 0.05, -0.1, -0.65, -0.7, -0.65, -0.6, -0.55, -0.45, 0.0, 0.34, 0.05, -0.5, -0.15, 0.68, 0.79, -0.05, -0.68, -0.85, -0.2, 0.0, -0.45, -0.55, -0.62, -0.7, -0.9, -1.2, -1.25, -0.85, -0.3, -0.23, -0.28, -0.52],
  [-0.2, 0.05, 0.12, 0.1, 0.06, -0.07, -0.22, -0.29, -0.1, -0.075, 0.08, 0.1, -0.45, -0.5, -0.5, -0.45, -0.45, -0.4, 0.03, 0.36, 0.08, -0.44, -0.12, 0.72, 0.79, -0.02, -0.72, -0.7, 0.0, 0.06, -0.3, -0.45, -0.5, -0.6, -0.85, -1.2, -1.23, -0.8, -0.29, -0.22, -0.26, -0.54],
];

// ---- tick lists ----
const T_GRID_TICKS = [1, 2, 3, 4, 5, 6, 7, 8, 9, 10, 20];
const T_LABEL_TICKS = [1, 10];
const ERR_TICKS_A = [1, 10, 100];
const ERR_TICKS_B = [1, 10];

// ===================== STYLE / HELPERS =====================
const FONT = '"DejaVu Sans", Verdana, sans-serif';
const GRID = '#e2e2e2';
const FRAME = '#8e8e8e';
const TICKC = '#444';
const BAND = '#b4b4b4';
const YW = 50, PR = 16, PT = 10, XH = 24;

const S_BLACK = { borderColor: '#000', borderWidth: 2.3 };
const S_RED = { borderColor: '#ff1a1a', borderWidth: 2.3 };
const S_DASH = { borderColor: '#000', borderWidth: 2.3, borderDash: [7, 4] };
const S_DOT = { borderColor: '#2536d8', borderWidth: 1.1, borderDash: [2, 2] };
const S_CYAN = { borderColor: '#18d0e0', borderWidth: 1.6 };
const S_YELLOW = { borderColor: '#e2e21a', borderWidth: 1.6 };
const S_THINBLUE = { borderColor: 'rgba(55,55,215,0.85)', borderWidth: 1.1 };
const S_ERR_BLACK = { borderColor: '#4d5a50', borderWidth: 1 };
const S_ERR_RED = { borderColor: '#e24848', borderWidth: 1 };
const S_ERR_BLUE = { borderColor: '#4848f0', borderWidth: 1 };

const ds = (data: any[], style: any, extra: any = {}) => ({ data, pointRadius: 0, fill: false, ...style, ...extra });
const pairs = (arr: number[][]) => arr.map(([x, y]) => ({ x, y }));
const xy = (xs: number[], ys: number[]) => xs.map((x, i) => ({ x, y: ys[i] }));
const tv = (ts: number[], vs: number[]) => ts.map((t, i) => ({ x: vs[i], y: t }));
function steps(depths: number[], vals: number[], bottom = 80) {
  const pts: any[] = [];
  for (let i = 0; i < vals.length; i++) {
    const d1 = i + 1 < depths.length ? depths[i + 1] : bottom;
    pts.push({ x: vals[i], y: depths[i] }, { x: vals[i], y: d1 });
  }
  return pts;
}
const mono = { cubicInterpolationMode: 'monotone' };

const fmt = (v: number) => String(Math.round(v * 1000) / 1000);
const SUP: Record<string, string> = { '0': '⁰', '1': '¹', '2': '²', '3': '³', '-': '⁻' };
function pow10(v: number) {
  const e = Math.log10(v);
  const r = Math.round(e);
  if (Math.abs(e - r) > 1e-6) return '';
  return '10' + String(r).split('').map((c) => SUP[c] || c).join('');
}

function axis(spec: any, pos: 'left' | 'bottom') {
  const o: any = {
    type: spec.type || 'linear',
    position: pos,
    min: spec.min,
    max: spec.max,
    reverse: !!spec.reverse,
    grid: { display: !!spec.grid, color: GRID, drawTicks: false, lineWidth: 1 },
    border: { display: false },
    ticks: {
      color: TICKC,
      font: { family: FONT, size: 11 },
      padding: 5,
      autoSkip: false,
      maxRotation: 0,
      includeBounds: false,
      callback: spec.type === 'logarithmic' ? (v: number) => pow10(v) : (v: number) => fmt(v),
    },
    afterFit: (s: any) => {
      if (pos === 'left') s.width = YW;
      else s.height = XH;
    },
  };
  if (spec.step) o.ticks.stepSize = spec.step;
  if (spec.ticks) {
    const t = spec.ticks;
    o.afterBuildTicks = (s: any) => {
      s.ticks = t.map((value: number) => ({ value, major: false }));
    };
  }
  return o;
}

const framePlugin = {
  id: 'frame',
  afterDatasetsDraw(chart: any) {
    const { ctx, chartArea: a } = chart;
    ctx.save();
    ctx.strokeStyle = FRAME;
    ctx.lineWidth = 1;
    ctx.strokeRect(Math.round(a.left) + 0.5, Math.round(a.top) + 0.5, Math.round(a.right - a.left) - 1, Math.round(a.bottom - a.top) - 1);
    ctx.restore();
  },
};

function velocityDatasets(m: any) {
  const out: any[] = [];
  const add = (d: number[], r: number[], s: number[], p: number[], st: any) => {
    out.push(ds(steps(d, r), st), ds(steps(d, s), st), ds(steps(d, p), st));
  };
  add(m.bd, m.br, m.bs, m.bp, S_BLACK);
  add(m.rd, m.rr, m.rs, m.rp, S_RED);
  (m.jets || []).forEach((j: any) => add(m.rd, j.r, j.s, j.p, j.st));
  m.blueD.forEach((d: number[], i: number) => add(d, m.blueR[i], m.blueS[i], m.blueP[i], S_DOT));
  return out;
}

const bandPair = (up: any[], lo: any[], extra: any = {}) => [
  { data: up, pointRadius: 0, borderWidth: 0, borderColor: 'rgba(0,0,0,0)', backgroundColor: BAND, fill: '+1', ...extra },
  { data: lo, pointRadius: 0, borderWidth: 0, borderColor: 'rgba(0,0,0,0)', fill: false, ...extra },
];

const RF_X = { min: -0.5, max: 20, step: 5, grid: true };
const T_AXIS_GRID = { type: 'logarithmic', min: 1, max: 25, reverse: true, grid: true, ticks: T_GRID_TICKS };
const T_AXIS_NOGRID = { type: 'logarithmic', min: 1, max: 25, reverse: true, grid: false, ticks: T_LABEL_TICKS };

const PANELS: any[] = [
  // ---------- row 1 ----------
  {
    l: 82, t: 68, w: 296, h: 236, indexAxis: 'y',
    x: { min: 1, max: 9, step: 1, grid: true },
    y: { min: 0, max: 80, step: 10, reverse: true, grid: true },
    datasets: velocityDatasets({
      bd: ALIC_BLACK_DEPTH, br: ALIC_BLACK_VPVS, bs: ALIC_BLACK_VS, bp: ALIC_BLACK_VP,
      rd: ALIC_RED_DEPTH, rr: ALIC_RED_VPVS, rs: ALIC_RED_VS, rp: ALIC_RED_VP,
      jets: [
        { r: ALIC_JET_VPVS, s: ALIC_YELLOW_VS, p: ALIC_YELLOW_VP, st: S_YELLOW },
        { r: ALIC_JET_VPVS, s: ALIC_CYAN_VS, p: ALIC_CYAN_VP, st: S_CYAN },
      ],
      blueD: ALIC_BLUE_DEPTH, blueR: ALIC_BLUE_VPVS, blueS: ALIC_BLUE_VS, blueP: ALIC_BLUE_VP,
    }),
  },
  {
    l: 471, t: 68, w: 296, h: 237,
    x: RF_X,
    y: { min: -0.3, max: 0.5, step: 0.1, grid: true },
    datasets: [
      ds(pairs(ALIC_RF_BLACK), S_BLACK, mono),
      ds(pairs(ALIC_RF_RED), S_RED, mono),
      ds(pairs(ALIC_RF_YELLOW), S_YELLOW, mono),
      ds(pairs(ALIC_RF_CYAN), S_CYAN, mono),
      ds(pairs(ALIC_RF_DASH), S_DASH, mono),
      ds(pairs(ALIC_RF_BLUE), S_DOT, mono),
      ...bandPair(pairs(ALIC_RF_BAND_UP), pairs(ALIC_RF_BAND_LO), mono),
    ],
  },
  {
    l: 860, t: 68, w: 296, h: 237, indexAxis: 'y',
    x: { min: 0, max: 6, step: 1, grid: true },
    y: T_AXIS_GRID,
    datasets: [
      ds(tv(ALIC_VS_BLACK_T, ALIC_VS_BLACK), S_BLACK),
      ds(tv(ALIC_VS_T, ALIC_VS_RED), S_RED),
      ds(tv(ALIC_VS_T, ALIC_VS_YELLOW), S_YELLOW),
      ds(tv(ALIC_VS_T, ALIC_VS_CYAN), S_CYAN),
      ds(tv(ALIC_VS_DASH_T, ALIC_VS_DASH), S_DASH),
      ...ALIC_VS_BLUE.map((b) => ds(tv(ALIC_VS_BLUE_T, b), S_DOT)),
      ...bandPair(tv(ALIC_VS_BAND_R_T, ALIC_VS_BAND_R), tv(ALIC_VS_BAND_L_T, ALIC_VS_BAND_L)),
    ],
  },
  // ---------- row 2 ----------
  {
    l: 82, t: 397, w: 296, h: 237,
    x: { min: 0, max: 50, step: 10, grid: false },
    y: { type: 'logarithmic', min: 0.147, max: 160, grid: false, ticks: ERR_TICKS_A },
    datasets: [
      ds(xy(ALIC_ERR_IT, ALIC_ERR_BLACK), S_ERR_BLACK),
      ds(xy(ALIC_ERR_IT, ALIC_ERR_RED), S_ERR_RED),
      ds(xy(ALIC_ERR_BLUE_IT, ALIC_ERR_BLUE), S_ERR_BLUE),
    ],
  },
  {
    l: 471, t: 397, w: 296, h: 238,
    x: RF_X,
    y: { min: -0.25, max: 0.2, step: 0.05, grid: true },
    datasets: [
      ds(pairs(ALIC_RES_RED), S_RED, mono),
      ds(pairs(ALIC_RES_YELLOW), S_YELLOW, mono),
      ds(pairs(ALIC_RES_CYAN), S_CYAN, mono),
      ds(pairs(ALIC_RES_DASH), S_DASH, mono),
      ds(pairs(ALIC_RES_BLUE1), { ...S_THINBLUE, borderWidth: 1.4 }, mono),
      ds(pairs(ALIC_RES_BLUE2), S_THINBLUE, mono),
    ],
  },
  {
    l: 860, t: 396, w: 296, h: 238, indexAxis: 'y',
    x: { min: -1.115, max: 0.5, step: 0.5, grid: false },
    y: T_AXIS_NOGRID,
    datasets: [
      ds(tv(ALIC_VSR_T, ALIC_VSR_RED), S_RED),
      ds(tv(ALIC_VSR_T, ALIC_VSR_YELLOW), S_YELLOW),
      ds(tv(ALIC_VSR_T, ALIC_VSR_CYAN), S_CYAN),
      ds(tv(ALIC_VSR_DASH_T, ALIC_VSR_DASH), S_DASH),
      ...ALIC_VSR_BLUE.map((b) => ds(tv(ALIC_VSR_DASH_T, b), S_THINBLUE)),
    ],
  },
  // ---------- row 3 ----------
  {
    l: 82, t: 739, w: 296, h: 237, indexAxis: 'y',
    x: { min: 1, max: 9, step: 1, grid: true },
    y: { min: 0, max: 80, step: 10, reverse: true, grid: true },
    datasets: velocityDatasets({
      bd: KOZK_BLACK_DEPTH, br: KOZK_BLACK_VPVS, bs: KOZK_BLACK_VS, bp: KOZK_BLACK_VP,
      rd: KOZK_RED_DEPTH, rr: KOZK_RED_VPVS, rs: KOZK_RED_VS, rp: KOZK_RED_VP,
      blueD: KOZK_BLUE_DEPTH, blueR: KOZK_BLUE_VPVS, blueS: KOZK_BLUE_VS, blueP: KOZK_BLUE_VP,
    }),
  },
  {
    l: 471, t: 739, w: 296, h: 238,
    x: RF_X,
    y: { min: -0.3, max: 0.5, step: 0.1, grid: true },
    datasets: [
      ds(pairs(KOZK_RF_BLACK), S_BLACK, mono),
      ds(pairs(KOZK_RF_RED), S_RED, mono),
      ds(pairs(KOZK_RF_DASH), S_DASH, mono),
      ds(pairs(KOZK_RF_BLUE), S_DOT, mono),
      ...bandPair(pairs(KOZK_RF_BAND_UP), pairs(KOZK_RF_BAND_LO), mono),
    ],
  },
  {
    l: 860, t: 739, w: 296, h: 237, indexAxis: 'y',
    x: { min: 0, max: 6, step: 1, grid: true },
    y: T_AXIS_GRID,
    datasets: [
      ds(tv(KOZK_VS_BLACK_T, KOZK_VS_BLACK), S_BLACK),
      ds(tv(KOZK_VS_T, KOZK_VS_RED), S_RED),
      ds(tv(KOZK_VS_DASH_T, KOZK_VS_DASH), S_DASH),
      ...KOZK_VS_BLUE.map((b) => ds(tv(KOZK_VS_T, b), S_DOT)),
      ...bandPair(tv(KOZK_VS_BAND_R_T, KOZK_VS_BAND_R), tv(KOZK_VS_BAND_L_T, KOZK_VS_BAND_L)),
    ],
  },
  // ---------- row 4 ----------
  {
    l: 82, t: 1069, w: 296, h: 237,
    x: { min: 0, max: 20, step: 5, grid: false },
    y: { type: 'logarithmic', min: 0.562, max: 82.8, grid: false, ticks: ERR_TICKS_B },
    datasets: [
      ds(xy(KOZK_ERR_IT, KOZK_ERR_BLACK), S_ERR_BLACK),
      ds(xy(KOZK_ERR_IT, KOZK_ERR_RED), S_ERR_RED),
      ds(xy(KOZK_ERR_BLUE_IT, KOZK_ERR_BLUE), S_ERR_BLUE),
    ],
  },
  {
    l: 471, t: 1069, w: 296, h: 237,
    x: RF_X,
    y: { min: -0.25, max: 0.25, step: 0.05, grid: true },
    datasets: [
      ds(pairs(KOZK_RES_RED), S_RED, mono),
      ds(pairs(KOZK_RES_DASH), S_DASH, mono),
      ds(pairs(KOZK_RES_BLUE1), { ...S_THINBLUE, borderWidth: 1.5 }, mono),
      ds(pairs(KOZK_RES_BLUE2), S_THINBLUE, mono),
    ],
  },
  {
    l: 860, t: 1069, w: 296, h: 237, indexAxis: 'y',
    x: { min: -2, max: 1, step: 0.5, grid: false },
    y: T_AXIS_NOGRID,
    datasets: [
      ds(tv(KOZK_VSR_T, KOZK_VSR_RED), S_RED),
      ds(tv(KOZK_VSR_DASH_T, KOZK_VSR_DASH), S_DASH),
      ...KOZK_VSR_BLUE.map((b) => ds(tv(KOZK_VSR_BLUE_T, b), S_THINBLUE)),
    ],
  },
];

function buildConfig(p: any): any {
  return {
    type: 'line',
    data: { datasets: p.datasets },
    options: {
      responsive: false,
      maintainAspectRatio: false,
      animation: false,
      devicePixelRatio: 1,
      events: [],
      indexAxis: p.indexAxis || 'x',
      layout: { padding: { top: PT, right: PR, left: 0, bottom: 0 } },
      plugins: { legend: { display: false }, tooltip: { enabled: false }, title: { display: false } },
      elements: { point: { radius: 0 }, line: { tension: 0, borderJoinStyle: 'round' } },
      scales: { x: axis(p.x, 'bottom'), y: axis(p.y, 'left') },
    },
    plugins: [framePlugin],
  };
}

function ChartPanel({ p }: { p: any }) {
  const ref = useRef<HTMLCanvasElement | null>(null);
  const W = YW + p.w + PR;
  const H = PT + p.h + XH;
  useEffect(() => {
    if (!ref.current) return;
    const chart = new Chart(ref.current, buildConfig(p));
    return () => chart.destroy();
  }, []);
  return <canvas ref={ref} width={W} height={H} style={{ position: 'absolute', left: p.l - YW, top: p.t - PT, width: W, height: H }} />;
}

function Label({ x, y, rot, size = 16, weight = 700, lh, children }: any) {
  return (
    <div
      style={{
        position: 'absolute', left: x, top: y,
        transform: `translate(-50%,-50%)${rot ? ' rotate(-90deg)' : ''}`,
        fontSize: size, fontWeight: weight, whiteSpace: 'nowrap', textAlign: 'center',
        lineHeight: lh ? `${lh}px` : 'normal', color: '#111', fontFamily: FONT,
      }}
    >
      {children}
    </div>
  );
}

const sub = { fontSize: 10, verticalAlign: 'sub', lineHeight: 0 } as any;
const sup = { fontSize: 10, verticalAlign: 'super', lineHeight: 0 } as any;
const VsApp = ({ resid }: { resid?: boolean }) => (
  <span>Vs<span style={sub}>app</span>{resid ? ' residual' : ''} [km s<span style={sup}>-1</span>]</span>
);

function Header({ x, y, letter, name, nameX, nameY }: any) {
  return (
    <>
      <div style={{ position: 'absolute', left: x, top: y, width: 44, height: 40, border: '3px solid #000', boxSizing: 'border-box', display: 'flex', alignItems: 'center', justifyContent: 'center', fontSize: 39, fontWeight: 700, fontFamily: FONT, lineHeight: 1, paddingBottom: letter === 'a' ? 6 : 0, color: '#000' }}>{letter}</div>
      <div style={{ position: 'absolute', left: nameX, top: nameY, transform: 'translateY(-50%)', fontSize: 24, fontWeight: 700, fontFamily: FONT, color: '#000' }}>{name}</div>
    </>
  );
}

export default function App() {
  return (
    <div style={{ position: 'absolute', left: 0, top: 0, width: 1168, height: 1356, background: '#fff', overflow: 'hidden' }}>
      {PANELS.map((p, i) => <ChartPanel key={i} p={p} />)}

      <Header x={25} y={8} letter="a" name="ALIC" nameX={92} nameY={28} />
      <Header x={23} y={685} letter="b" name="KOZK" nameX={88} nameY={707} />

      <Label x={619} y={61} size={11}>ALIC</Label>
      <Label x={619} y={732} size={11}>KOZK</Label>

      {/* row 1 */}
      <Label x={43} y={180} rot>depth [km]</Label>
      <Label x={238} y={353} lh={20}>Velocity model<br />(Vp/Vs, Vs, Vp)</Label>
      <Label x={432} y={181} rot>RF amplitude</Label>
      <Label x={611} y={345}>delay time [sec]</Label>
      <Label x={818} y={180} rot>T [sec]</Label>
      <Label x={1004} y={344}><VsApp /></Label>

      {/* row 2 */}
      <Label x={31} y={525} rot lh={19}>total error<br />(dimensionless)</Label>
      <Label x={249} y={673}>model iteration</Label>
      <Label x={431} y={506} rot>RF residual</Label>
      <Label x={611} y={673}>delay time [sec]</Label>
      <Label x={817} y={512} rot>T [sec]</Label>
      <Label x={999} y={674}><VsApp resid /></Label>

      {/* row 3 */}
      <Label x={43} y={849} rot>depth [km]</Label>
      <Label x={238} y={1024} lh={20}>Velocity model<br />(Vp/Vs, Vs, Vp)</Label>
      <Label x={611} y={1017}>delay time [sec]</Label>
      <Label x={1004} y={1016}><VsApp /></Label>

      {/* row 4 */}
      <Label x={31} y={1203} rot lh={19}>total error<br />(dimensionless)</Label>
      <Label x={249} y={1343}>model iteration</Label>
      <Label x={611} y={1343}>delay time [sec]</Label>
      <Label x={999} y={1345}><VsApp resid /></Label>
    </div>
  );
}
